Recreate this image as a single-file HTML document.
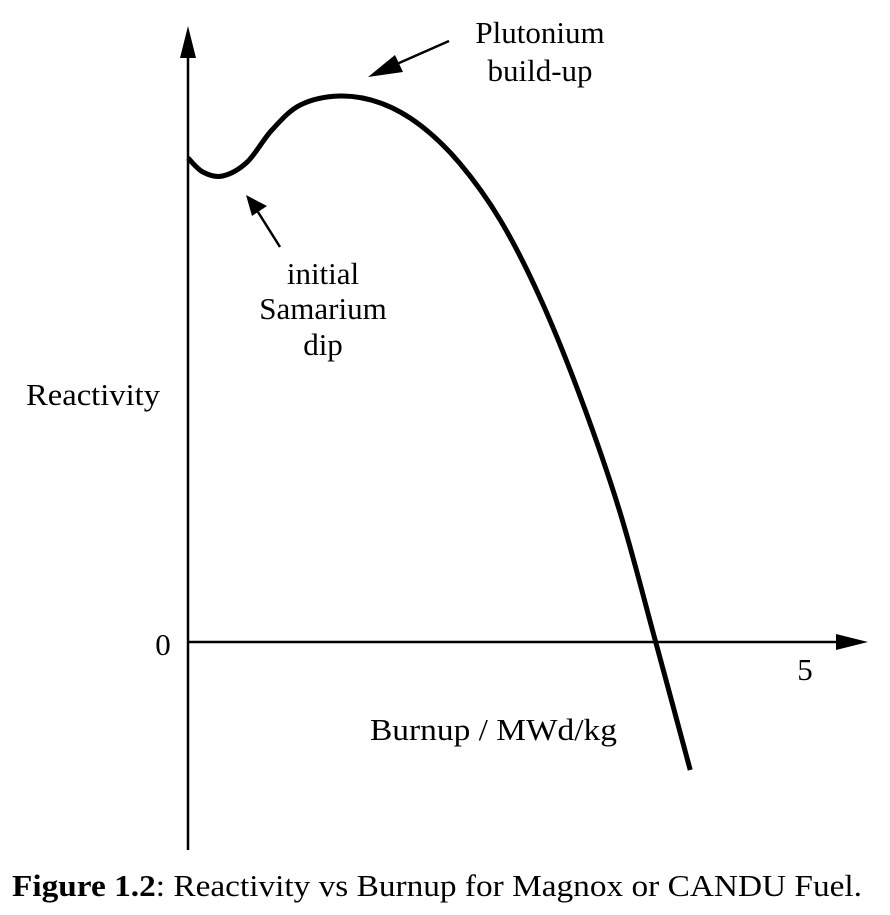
<!DOCTYPE html>
<html><head><meta charset="utf-8"><style>
html,body{margin:0;padding:0;background:#fff;}
svg text{font-family:"Liberation Serif",serif;fill:#000;}
</style></head><body>
<svg width="890" height="910" viewBox="0 0 890 910">
<g>
<line x1="188" y1="50" x2="188" y2="850" stroke="#000" stroke-width="2.5"/>
<polygon points="188,26 180,58 196,58" fill="#000"/>
</g>
<g>
<line x1="188" y1="642" x2="840" y2="642" stroke="#000" stroke-width="2.5"/>
<polygon points="868,642 836,634 836,650" fill="#000"/>
</g>
<text x="163" y="655" font-size="31" text-anchor="middle">0</text>
<text x="805" y="680" font-size="31" text-anchor="middle">5</text>
<text x="26" y="405" font-size="31" textLength="134" lengthAdjust="spacingAndGlyphs">Reactivity</text>
<text x="370" y="740" font-size="31" textLength="247" lengthAdjust="spacingAndGlyphs">Burnup / MWd/kg</text>
<text x="540" y="43" font-size="31" text-anchor="middle">Plutonium</text>
<text x="540" y="81" font-size="31" text-anchor="middle">build-up</text>
<text x="323" y="284" font-size="31" text-anchor="middle">initial</text>
<text x="323" y="319" font-size="31" text-anchor="middle">Samarium</text>
<text x="323" y="355" font-size="31" text-anchor="middle">dip</text>
<g>
<line x1="449" y1="41" x2="390" y2="67" stroke="#000" stroke-width="2.5"/>
<polygon points="368,77 395,55 403,72" fill="#000"/>
</g>
<g>
<line x1="280" y1="247" x2="258" y2="212" stroke="#000" stroke-width="2.5"/>
<polygon points="246,195 267,206 252,216" fill="#000"/>
</g>
<path id="curve" d="" fill="none" stroke="#000" stroke-width="5" stroke-linecap="butt"/>
<text x="12" y="896" font-size="31" textLength="850" lengthAdjust="spacingAndGlyphs"><tspan font-weight="bold">Figure 1.2</tspan>: Reactivity vs Burnup for Magnox or CANDU Fuel.</text>
</svg>
<script>
const burnup = [0, 0.12, 0.28, 0.48, 0.68, 0.91, 1.23, 1.56, 1.88, 2.20, 2.53, 2.85, 3.18, 3.50, 3.79, 4.07];
const reactivity = [4.84, 4.70, 4.66, 4.80, 5.12, 5.37, 5.46, 5.39, 5.17, 4.79, 4.22, 3.45, 2.45, 1.30, 0, -1.28];
function xs(b){return 188 + b*123.4;}
function ys(r){return 642 - r*100;}
const pts = burnup.map((b,i)=>[xs(b), ys(reactivity[i])]);
let d = 'M'+pts[0][0]+','+pts[0][1];
for(let i=0;i<pts.length-1;i++){
  const p0=pts[Math.max(i-1,0)],p1=pts[i],p2=pts[i+1],p3=pts[Math.min(i+2,pts.length-1)];
  const c1=[p1[0]+(p2[0]-p0[0])/6,p1[1]+(p2[1]-p0[1])/6];
  const c2=[p2[0]-(p3[0]-p1[0])/6,p2[1]-(p3[1]-p1[1])/6];
  d+=' C'+c1[0]+','+c1[1]+' '+c2[0]+','+c2[1]+' '+p2[0]+','+p2[1];
}
const c=document.getElementById('curve');
c.setAttribute('d',d);


</script>
</body></html>
